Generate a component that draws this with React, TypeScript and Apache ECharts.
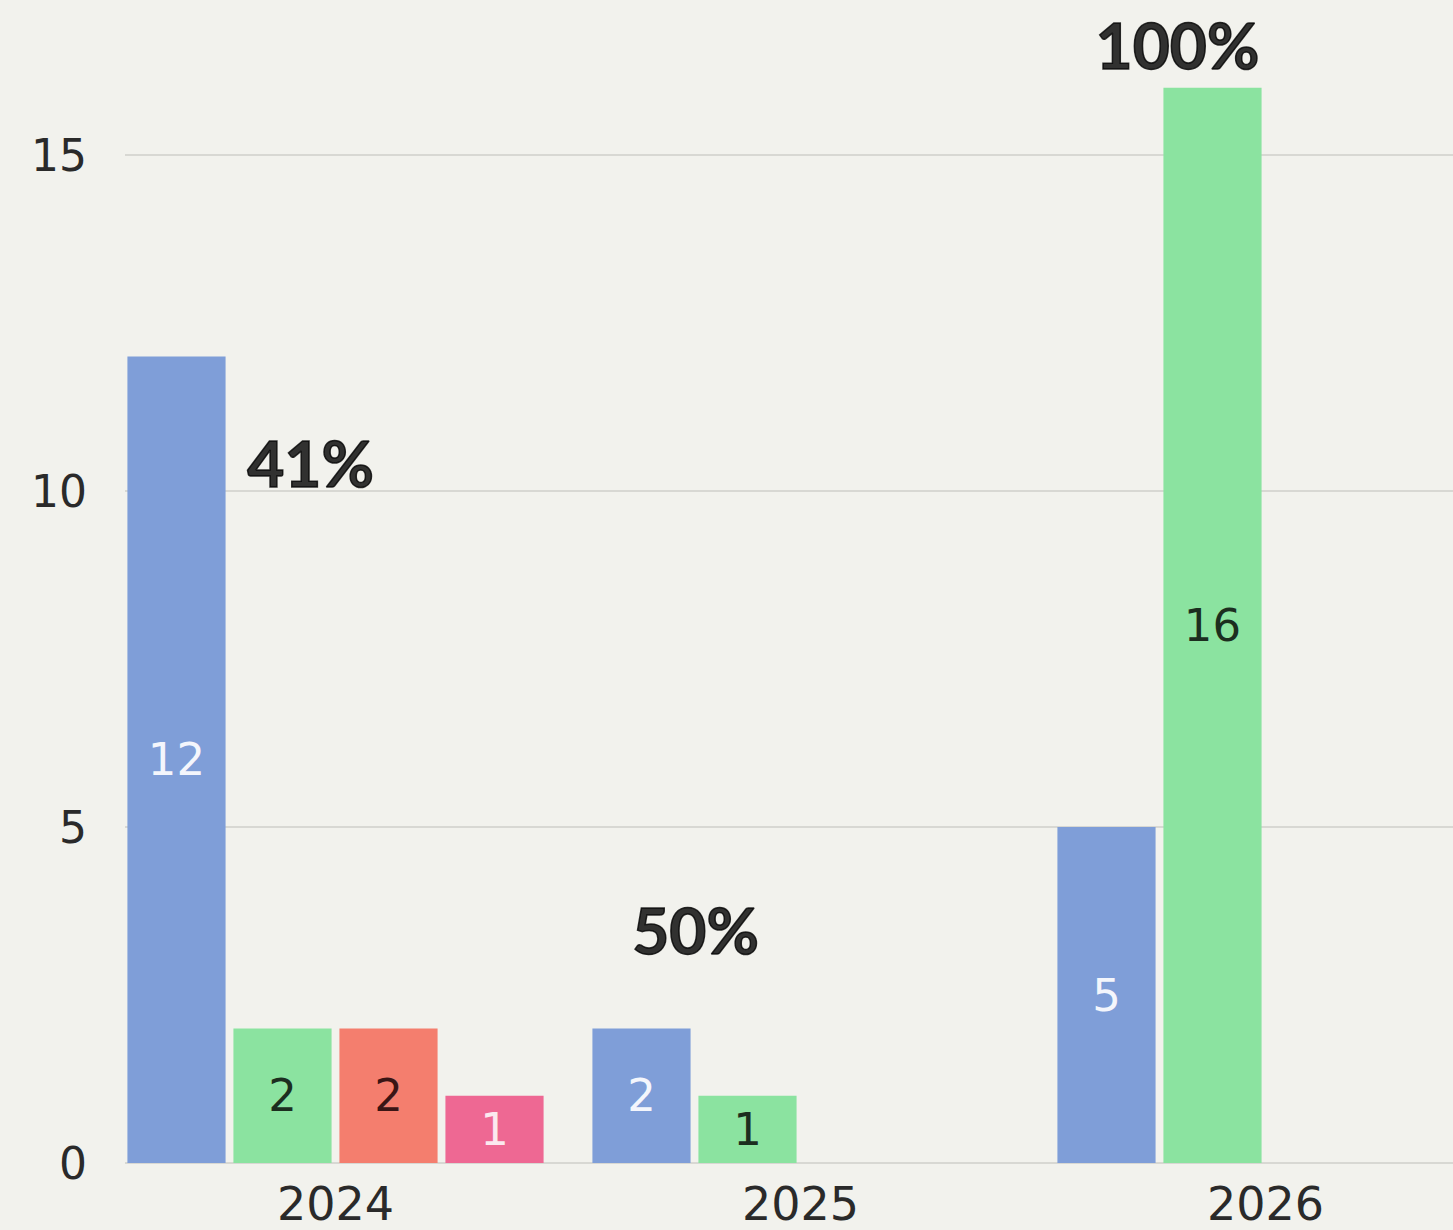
import React, { useEffect, useRef } from "react";
import * as echarts from "echarts";

const years = ["2024", "2025", "2026"];
const blueValues = [12, 2, 5];
const greenValues = [2, 1, 16];
const redValues = [2, null, null];
const pinkValues = [1, null, null];

const seriesColors = ["#7f9ed8", "#8be3a0", "#f47e6e", "#ee6893"];
const labelColors = ["#f4f6fc", "#1c2e1f", "#3a1515", "#fbe9ef"];

const percentTexts = ["41%", "50%", "100%"];
const percentYears = ["2024", "2025", "2026"];
const percentValues = [10.43, 3.47, 16.64];
const percentDx = [-25, -105, -88];

const yTicks = { min: 0, max: 20, interval: 5 };

export default function App() {
  const ref = useRef<HTMLDivElement>(null);

  useEffect(() => {
    if (!ref.current) return;
    const chart = echarts.init(ref.current, undefined, { renderer: "svg" });
    const allValues = [blueValues, greenValues, redValues, pinkValues];
    const barSeries = allValues.map((vals, i) => ({
      type: "bar",
      xAxisIndex: 0,
      yAxisIndex: 0,
      data: vals,
      barGap: "8%",
      barCategoryGap: "10.5%",
      itemStyle: { color: seriesColors[i] },
      label: {
        show: true,
        position: "inside",
        color: labelColors[i],
        fontSize: 45,
        fontFamily: "DejaVu Sans",
      },
      z: 3,
    }));
    const pctLabel = {
      show: true,
      position: "inside",
      fontSize: 64,
      fontWeight: "bold",
      fontFamily: "Lato",
      color: "#000",
      textBorderColor: "#000",
      textBorderWidth: 1.5,
    };
    chart.setOption({
      animation: false,
      backgroundColor: "#f2f2ed",
      grid: [
        {
          left: 103,
          width: 1395,
          top: -181,
          height: 1344,
          outerBoundsMode: "none",
          containLabel: false,
        },
        {
          left: 125,
          right: 0,
          top: -181,
          height: 1344,
          outerBoundsMode: "none",
          containLabel: false,
        },
      ],
      xAxis: [
        {
          type: "category",
          gridIndex: 0,
          data: years,
          axisLine: { show: false },
          axisTick: { show: false },
          axisLabel: {
            fontSize: 46,
            fontFamily: "DejaVu Sans",
            color: "#2a2a2a",
            margin: 18,
          },
        },
        { type: "value", gridIndex: 1, show: false, min: 0, max: 1 },
      ],
      yAxis: [
        { type: "value", gridIndex: 0, show: false, ...yTicks },
        {
          type: "value",
          gridIndex: 1,
          ...yTicks,
          axisLine: { show: false },
          axisTick: { show: false },
          axisLabel: {
            fontSize: 44,
            fontFamily: "DejaVu Sans",
            color: "#2a2a2a",
            margin: 38,
            showMaxLabel: false,
          },
          splitLine: { lineStyle: { color: "#d8d8d3", width: 2 } },
        },
      ],
      series: [
        ...barSeries,
        {
          type: "scatter",
          xAxisIndex: 0,
          yAxisIndex: 0,
          symbolSize: 0,
          z: 5,
          label: pctLabel,
          data: percentTexts.map((t, i) => ({
            value: [percentYears[i], percentValues[i]],
            label: {
              ...pctLabel,
              offset: [percentDx[i], 0],
              formatter: t,
            },
          })),
        },
      ],
    });
    return () => chart.dispose();
  }, []);

  return (
    <div
      style={{
        position: "fixed",
        left: 0,
        top: 0,
        width: 1453,
        height: 1230,
        overflow: "hidden",
        background: "#f2f2ed",
      }}
    >
      <div ref={ref} style={{ width: 1453, height: 1230 }} />
    </div>
  );
}
